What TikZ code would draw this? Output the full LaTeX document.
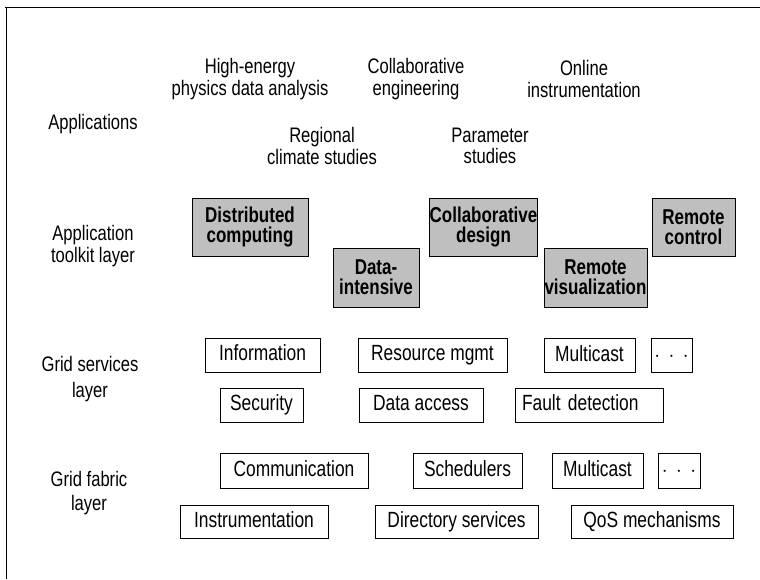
\documentclass[tikz,border=0pt]{standalone}
\usepackage{fontspec}
\setmainfont[FakeStretch=0.79]{Liberation Sans}
\newcommand{\mydots}{$\cdot\hspace{4pt}\cdot\hspace{4pt}\cdot$}
\begin{document}
\begin{tikzpicture}[x=1pt,y=-1pt,
  txt/.style={align=center, inner sep=0, font=\fontsize{21}{21.5}\selectfont},
  svc/.style={draw, line width=0.8pt, inner sep=0, text height=15, text depth=4, font=\fontsize{22}{19}\selectfont},
  tk/.style={draw, line width=0.8pt, inner sep=0, fill=black!25, align=center, font=\fontsize{21.5}{20}\selectfont\bfseries}]
\useasboundingbox (0,0) rectangle (760,579);
% frame
\draw[line width=0.7pt] (5,7) -- (760,7);
\draw[line width=0.7pt] (6,7) -- (6,579);
% layer labels
\node[txt] (lapp) at (93,124) {Applications};
\node[txt] (ltk) at (93,246) {Application\\toolkit layer};
\node[txt] (lgs) at (90,379) {Grid services\\[4pt]layer};
\node[txt] (lgf) at (89,493) {Grid fabric\\[3pt]layer};
% applications
\node[txt] (hep) at (250,79) {High-energy\\physics data analysis};
\node[txt] (ceng) at (416,79) {Collaborative\\engineering};
\node[txt] (onl) at (584,79) {Online\\instrumentation};
\node[txt] (reg) at (322,146) {Regional\\climate studies};
\node[txt] (par) at (490,146) {Parameter\\studies};
% toolkit
\node[tk, minimum width=116, minimum height=58] (dist) at (250,227) {Distributed\\computing};
\node[tk, minimum width=86, minimum height=59] (dint) at (376,277.5) {Data-\\intensive};
\node[tk, minimum width=107, minimum height=58] (cdes) at (483.5,227) {Collaborative\\design};
\node[tk, minimum width=103, minimum height=59] (rvis) at (595.5,277.5) {Remote\\visualization};
\node[tk, minimum width=83, minimum height=58] (rctl) at (693.5,227) {Remote\\control};
% grid services
\node[svc, minimum width=115, minimum height=34] (info) at (262.5,355) {Information};
\node[svc, minimum width=149, minimum height=34] (rmg) at (432.5,355) {Resource mgmt};
\node[svc, minimum width=91, minimum height=34] (mc1) at (589.5,355.5) {Multicast};
\node[svc, minimum width=41, minimum height=34] (dt1) at (671.5,355.5) {\mydots};
\node[svc, minimum width=83, minimum height=34] (sec) at (261.5,405) {Security};
\node[svc, minimum width=124, minimum height=34] (dac) at (421,405) {Data access};
\node[svc, minimum height=34, text width=134, inner xsep=7, align=left] (flt) at (589,405) {Fault detection};
% grid fabric
\node[svc, minimum width=148, minimum height=35] (com) at (294,470.5) {Communication};
\node[svc, minimum width=109, minimum height=35] (sch) at (467.5,470.5) {Schedulers};
\node[svc, minimum width=91, minimum height=35] (mc2) at (597.5,470.5) {Multicast};
\node[svc, minimum width=42, minimum height=35] (dt2) at (679,470.5) {\mydots};
\node[svc, minimum width=148, minimum height=33] (ins) at (254,521.5) {Instrumentation};
\node[svc, minimum width=163, minimum height=33] (dir) at (456.5,521.5) {Directory services};
\node[svc, minimum width=162, minimum height=33] (qos) at (652,521.5) {QoS mechanisms};
\end{tikzpicture}
\end{document}
